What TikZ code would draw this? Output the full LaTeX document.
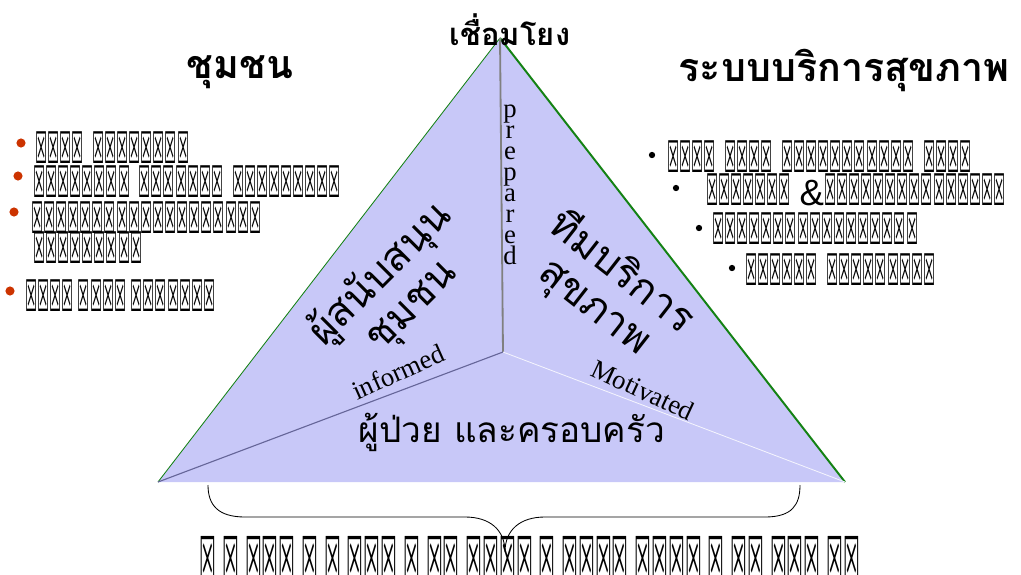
\documentclass[tikz,border=0pt]{standalone}
\usepackage{fontspec}
\setmainfont{Liberation Serif}
\newfontfamily\thaifont[Script=Thai]{Loma}
\newfontfamily\boxfont[FakeStretch=0.31]{DejaVu Sans}
\newfontfamily\sansfont{Liberation Sans}
\usetikzlibrary{positioning}

\definecolor{trifill}{RGB}{200,200,248}
\definecolor{bulletred}{RGB}{204,51,0}
\definecolor{edgegreen}{RGB}{20,130,20}

\begin{document}
\begin{tikzpicture}[
    x=0.025cm, y=-0.025cm,
    headline/.style={font=\thaifont\bfseries\fontsize{28}{34}\selectfont, inner sep=0},
    facelabel/.style={font=\thaifont\fontsize{29}{31}\selectfont, inner sep=0, align=center},
    englabel/.style={font=\fontsize{19}{15}\selectfont, inner sep=0},
    tofuline/.style={font=\boxfont\fontsize{31}{30}\selectfont, inner sep=0, anchor=west, align=left},
    redbullet/.style={circle, fill=bulletred, inner sep=0, minimum size=6.5pt},
    blackbullet/.style={circle, fill=black, inner sep=0, minimum size=4.5pt}
]
\useasboundingbox (0,0) rectangle (1021,574);

% triangle
\coordinate (apex) at (500,38);
\coordinate (lft) at (158,482);
\coordinate (rgt) at (845,482);
\coordinate (mid) at (503,352);
\fill[trifill] (apex) -- (rgt) -- (lft) -- cycle;
\draw[edgegreen, line width=0.6pt] (lft) -- (apex);
\draw[edgegreen, line width=1.4pt] (apex) -- (rgt);
\draw[gray, line width=1.3pt] (apex) -- (mid);
\draw[gray!80!blue, line width=0.8pt] (mid) -- (lft);
\draw[white!80!trifill, line width=0.6pt] (mid) -- (rgt);

% headings
\node[font=\thaifont\bfseries\fontsize{22}{24}\selectfont, inner sep=0] (link) at (510,30) {เชื่อมโยง};
\node[headline] (community) at (240,72) {ชุมชน};
\node[headline] (system) at (844,70) {ระบบบริการสุขภาพ};

% faces
\node[facelabel, rotate=45] (supporter) at (396,290) {ผู้สนับสนุน\\ชุมชน};
\node[facelabel, rotate=-38] (team) at (608,290) {ทีมบริการ\\สุขภาพ};
\node[facelabel, font=\thaifont\fontsize{25}{27}\selectfont] (patient) at (512,432) {ผู้ป่วย และครอบครัว};
\node[englabel, align=center] (prepared) at (510,185) {p\\r\\e\\p\\a\\r\\e\\d};
\node[englabel, rotate=24] (informed) at (398,372) {informed};
\node[englabel, rotate=-25] (motivated) at (643,390) {Motivated};

% left list
\node[tofuline] (l1) at (35,148) {☒☒☒☒~ ☒☒☒☒☒☒☒☒};
\node[tofuline] (l2) at (33,182) {☒☒☒☒☒☒☒☒~ ☒☒☒☒☒☒☒~ ☒☒☒☒☒☒☒☒☒};
\node[tofuline] (l3) at (31,218) {☒☒☒☒☒☒☒☒☒☒☒☒☒☒☒☒☒☒☒};
\node[tofuline] (l3b) at (33,248) {☒☒☒☒☒☒☒☒☒};
\node[tofuline] (l4) at (25,296) {☒☒☒☒ ☒☒☒☒ ☒☒☒☒☒☒☒};
\node[redbullet] (lb1) at (21,143) {};
\node[redbullet] (lb2) at (18,176) {};
\node[redbullet] (lb3) at (14,212) {};
\node[redbullet] (lb4) at (10,291) {};

% right list
\node[tofuline] (r1) at (667,157) {☒☒☒☒~ ☒☒☒☒~ ☒☒☒☒☒☒☒☒☒☒☒~ ☒☒☒☒};
\node[tofuline] (r2) at (706,190) {☒☒☒☒☒☒☒~ {\sansfont\fontsize{26}{26}\selectfont\&}☒☒☒☒☒☒☒☒☒☒☒☒☒☒☒};
\node[tofuline] (r3) at (712,229) {☒☒☒☒☒☒☒☒☒☒☒☒☒☒☒☒☒};
\node[tofuline] (r4) at (745,270) {☒☒☒☒☒☒~ ☒☒☒☒☒☒☒☒☒};
\node[blackbullet] (rb1) at (652,155) {};
\node[blackbullet] (rb2) at (676,188) {};
\node[blackbullet] (rb3) at (699,228) {};
\node[blackbullet] (rb4) at (732,268) {};

% brace
\coordinate (bl) at (208,485);
\coordinate (br) at (800,485);
\coordinate (tip) at (505,552);
\draw[line width=0.6pt] (bl) .. controls (208,505) and (218,517) .. (245,517) -- (465,517)
    .. controls (490,517) and (505,530) .. (tip)
    .. controls (505,530) and (520,517) .. (545,517) -- (765,517)
    .. controls (792,517) and (800,505) .. (br);

\node[font=\boxfont\fontsize{43}{42}\selectfont, inner sep=0] (summary) at (530,558)
    {☒ ☒ ☒☒☒ ☒ ☒ ☒☒☒ ☒ ☒☒ ☒☒☒☒ ☒ ☒☒☒☒ ☒☒☒☒ ☒ ☒☒ ☒☒☒ ☒☒};
\end{tikzpicture}
\end{document}
